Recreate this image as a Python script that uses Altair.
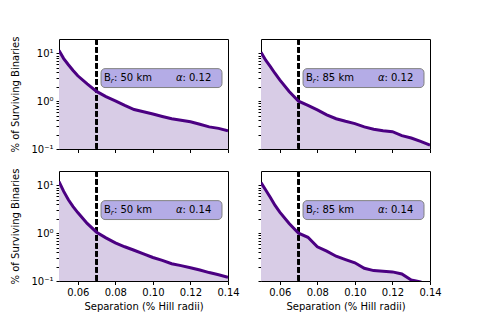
import altair as alt
import pandas as pd

# ---- data ----
sep = [0.05, 0.0525, 0.055, 0.0575, 0.06, 0.065, 0.07, 0.075, 0.08, 0.085, 0.09,
       0.095, 0.10, 0.105, 0.11, 0.115, 0.12, 0.125, 0.13, 0.135, 0.14]

surv_50_012 = [11.5, 7.8, 5.8, 4.4, 3.4, 2.3, 1.6, 1.25, 1.02, 0.82, 0.67,
               0.60, 0.54, 0.48, 0.43, 0.40, 0.37, 0.33, 0.29, 0.27, 0.24]
surv_85_012 = [10.5, 7.2, 5.3, 3.8, 2.8, 1.6, 1.0, 0.82, 0.66, 0.52, 0.43,
               0.38, 0.34, 0.29, 0.26, 0.24, 0.23, 0.19, 0.17, 0.145, 0.12]
surv_50_014 = [12.0, 7.5, 5.0, 3.6, 2.7, 1.6, 1.05, 0.80, 0.63, 0.52, 0.44,
               0.37, 0.31, 0.27, 0.23, 0.21, 0.19, 0.17, 0.15, 0.135, 0.12]
surv_85_014 = [11.4, 8.0, 5.6, 3.8, 2.75, 1.6, 1.0, 0.82, 0.52, 0.42, 0.33,
               0.28, 0.24, 0.185, 0.165, 0.16, 0.155, 0.14, 0.105, 0.095, 0.08]

radii = ["50 km", "85 km", "50 km", "85 km"]
alphas = ["0.12", "0.12", "0.14", "0.14"]

x_ticks = [0.06, 0.08, 0.10, 0.12, 0.14]
y_ticks = [0.1, 0.2, 0.3, 0.4, 0.5, 0.6, 0.7, 0.8, 0.9,
           1, 2, 3, 4, 5, 6, 7, 8, 9, 10]

# ---- styling / annotation placement ----
W, H = 169, 110
LINE = "#4b0082"
FILL = "#d8cce6"
BOX = "#b4ace6"
FONT = "DejaVu Sans"
x_dom = [0.05, 0.14]
y_dom = [0.1, 20]
cut = 0.07
box_x, box_x2 = 0.0724, 0.1368
box_y, box_y2 = 4.8, 1.93
txt_x, txt_y = 0.1043, 3.05

label_expr = ("datum.value == 10 ? '10\u00b9' : datum.value == 1 ? '10\u2070' : "
              "datum.value == 0.1 ? '10\u207b\u00b9' : ''")


def panel(vals, radius, alpha, show_x, show_y):
    df = pd.DataFrame({"sep": sep, "pct": vals})
    xs = alt.Scale(domain=x_dom, nice=False, zero=False)
    ys = alt.Scale(type="log", domain=y_dom, nice=False)
    xaxis = alt.Axis(values=x_ticks, format=".2f", labels=show_x, tickSize=3.5,
                     labelFlush=False, labelPadding=3, grid=False, domain=False,
                     titlePadding=4)
    yaxis = alt.Axis(values=y_ticks, labelExpr=label_expr, labels=show_y,
                     tickSize=3, labelOverlap=False, labelPadding=3,
                     titlePadding=10, grid=False, domain=False)

    area = alt.Chart(df).mark_area(color=FILL, opacity=1, clip=True).encode(
        x=alt.X("sep:Q", scale=xs, axis=xaxis,
                title="Separation (% Hill radii)" if show_x else None),
        y=alt.Y("pct:Q", scale=ys, axis=yaxis,
                title="% of Surviving Binaries" if show_y else None),
        y2=alt.datum(0.1),
    )
    line = alt.Chart(df).mark_line(color=LINE, strokeWidth=3, clip=True).encode(
        x="sep:Q", y="pct:Q",
    )
    rule = alt.Chart(df).mark_rule(color="black", strokeWidth=1.4,
                                   strokeDash=[5.5, 2.5]).encode(
        x=alt.datum(cut),
    )
    one = pd.DataFrame({"b": ["B"], "s": ["r"], "r": [": " + radius],
                        "a": [": " + alpha]})
    box = alt.Chart(one).mark_rect(fill=BOX, stroke="#808080", strokeWidth=1,
                                   cornerRadius=4).encode(
        x=alt.datum(box_x), x2=alt.datum(box_x2),
        y=alt.datum(box_y), y2=alt.datum(box_y2),
    )
    common = dict(align="left", baseline="middle", font=FONT, color="black")
    tb = alt.Chart(one).mark_text(dx=-57, fontSize=10, **common).encode(
        x=alt.datum(txt_x), y=alt.datum(txt_y), text="b:N")
    ts = alt.Chart(one).mark_text(dx=-50.2, dy=3, fontSize=7, fontStyle="italic",
                                  **common).encode(
        x=alt.datum(txt_x), y=alt.datum(txt_y), text="s:N")
    tr = alt.Chart(one).mark_text(dx=-47, fontSize=10, **common).encode(
        x=alt.datum(txt_x), y=alt.datum(txt_y), text="r:N")
    ta = alt.Chart(one).mark_text(dx=15, fontSize=10, fontStyle="italic",
                                  text="\u03b1", **common).encode(
        x=alt.datum(txt_x), y=alt.datum(txt_y))
    tv = alt.Chart(one).mark_text(dx=21.5, fontSize=10, **common).encode(
        x=alt.datum(txt_x), y=alt.datum(txt_y), text="a:N")
    return alt.layer(area, rule, line, box, tb, ts, tr, ta, tv).properties(
        width=W, height=H)


chart = alt.concat(
    panel(surv_50_012, radii[0], alphas[0], False, True),
    panel(surv_85_012, radii[1], alphas[1], False, False),
    panel(surv_50_014, radii[2], alphas[2], True, True),
    panel(surv_85_014, radii[3], alphas[3], True, False),
    columns=2, spacing={"row": 22, "column": 33}, bounds="flush",
).properties(
    padding={"top": 27, "left": 2, "right": 5, "bottom": 5}
).configure_view(stroke="black", strokeWidth=1).configure_axis(
    labelFont=FONT, labelFontSize=10, labelColor="black",
    titleFont=FONT, titleFontSize=10, titleFontWeight="normal", titleColor="black",
    tickColor="black", tickWidth=1, domainColor="black"
)

chart.save("out.html", embed_options={"renderer": "svg", "actions": False})
